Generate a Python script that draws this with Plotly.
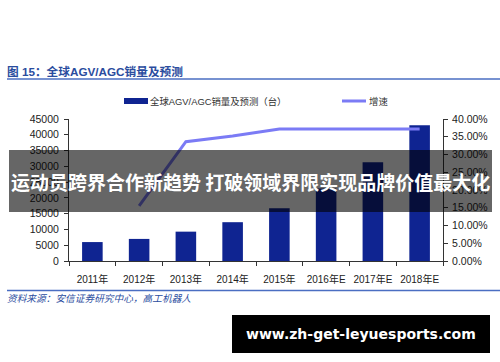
import plotly.graph_objects as go

years = ["2011年", "2012年", "2013年", "2014年", "2015年", "2016年E", "2017年E", "2018年E"]
sales = [6000, 7000, 9300, 12300, 16700, 23000, 31300, 43000]
growth_years = ["2012年", "2013年", "2014年", "2015年", "2016年E", "2017年E", "2018年E"]
growth = [0.155, 0.336, 0.352, 0.372, 0.372, 0.372, 0.372]

BAR = "#0F2491"
LINE = "#7B7BF5"
BLUE = "#4A6EC2"
CJK = "Noto Sans CJK SC"
NUM = "Liberation Sans"

fig = go.Figure()
fig.add_trace(go.Bar(x=years, y=sales, marker=dict(color=BAR, line=dict(width=0)),
                     width=0.44, yaxis="y", showlegend=False))
fig.add_trace(go.Scatter(x=growth_years, y=growth, mode="lines",
                         line=dict(color=LINE, width=3), yaxis="y2", showlegend=False))

W, H = 500, 362
L, R, T, B = 69, 443, 119, 261

def px(x):
    return (x - L) / (R - L)

def py(y):
    return (B - y) / (B - T)

fig.update_layout(
    width=W, height=H,
    margin=dict(l=L, r=W - R, t=T, b=H - B, autoexpand=False),
    paper_bgcolor="white", plot_bgcolor="white",
    xaxis=dict(type="category", showline=True, linecolor="#333", linewidth=1,
               ticks="outside", tickson="boundaries", ticklen=4, tickcolor="#333",
               tickangle=0, ticklabelstandoff=9,
               tickfont=dict(family=NUM + ", " + CJK, size=10, color="#222"),
               showgrid=False, zeroline=False),
    yaxis=dict(range=[0, 45000], dtick=5000, tickformat="d", showline=True, linecolor="#333", linewidth=1,
               ticks="outside", ticklen=4, tickcolor="#333", showgrid=False, zeroline=False,
               ticklabelstandoff=3,
               tickfont=dict(family=NUM, size=10.5, color="#222")),
    yaxis2=dict(range=[0, 0.4], dtick=0.05, tickformat=".2%", overlaying="y", side="right",
                showline=True, linecolor="#333", linewidth=1, ticks="outside", ticklen=4,
                tickcolor="#333", showgrid=False, zeroline=False, ticklabelstandoff=2,
                tickfont=dict(family=NUM, size=10.5, color="#222")),
    font=dict(family=NUM + ", " + CJK),
)

shapes = []
annotations = []

# title
annotations.append(dict(x=px(5), y=py(71), xref="paper", yref="paper", xanchor="left", yanchor="middle",
                        text="<b>图 15：全球AGV/AGC销量及预测</b>", showarrow=False,
                        font=dict(family=NUM + ", " + CJK, size=11.7, color="#2A4C9E")))
shapes.append(dict(type="line", xref="paper", yref="paper", x0=px(7), x1=px(500), y0=py(79), y1=py(79),
                   line=dict(color=BLUE, width=1.5)))

# legend
shapes.append(dict(type="rect", xref="paper", yref="paper", x0=px(124), x1=px(148), y0=py(104), y1=py(98),
                   fillcolor=BAR, line=dict(width=0)))
annotations.append(dict(x=px(148), y=py(101), xref="paper", yref="paper", xanchor="left", yanchor="middle",
                        text="全球AGV/AGC销量及预测（台）", showarrow=False,
                        font=dict(family=NUM + ", " + CJK, size=9.4, color="#333")))
shapes.append(dict(type="line", xref="paper", yref="paper", x0=px(342), x1=px(366), y0=py(101), y1=py(101),
                   line=dict(color=LINE, width=3)))
annotations.append(dict(x=px(367), y=py(101), xref="paper", yref="paper", xanchor="left", yanchor="middle",
                        text="增速", showarrow=False,
                        font=dict(family=CJK, size=9.4, color="#333")))

# source
shapes.append(dict(type="line", xref="paper", yref="paper", x0=px(7), x1=px(500), y0=py(290.5), y1=py(290.5),
                   line=dict(color=BLUE, width=1.5)))
annotations.append(dict(x=px(5), y=py(298), xref="paper", yref="paper", xanchor="left", yanchor="middle",
                        text="<i>资料来源：安信证券研究中心，高工机器人</i>", showarrow=False,
                        font=dict(family=CJK, size=9.7, color="#2A4C9E")))

# banner overlay
shapes.append(dict(type="rect", xref="paper", yref="paper", x0=px(9), x1=px(492), y0=py(212), y1=py(150),
                   fillcolor="rgba(0,0,0,0.6)", line=dict(width=0), layer="above"))
annotations.append(dict(x=px(250), y=py(181), xref="paper", yref="paper", xanchor="center", yanchor="middle",
                        text="<b>运动员跨界合作新趋势 打破领域界限实现品牌价值最大化</b>", showarrow=False,
                        font=dict(family=CJK, size=19, color="white")))

# watermark
shapes.append(dict(type="rect", xref="paper", yref="paper", x0=px(232), x1=px(490), y0=py(353), y1=py(315),
                   fillcolor="black", line=dict(width=0), layer="above"))
annotations.append(dict(x=px(361), y=py(334), xref="paper", yref="paper", xanchor="center", yanchor="middle",
                        text="<b>www.zh-get-leyuesports.com</b>", showarrow=False,
                        font=dict(family="DejaVu Sans", size=14, color="white")))

fig.update_layout(shapes=shapes, annotations=annotations)
fig.write_html("out.html", config={"displayModeBar": False},
               post_script="document.body.style.margin='0';document.body.style.padding='0';")
